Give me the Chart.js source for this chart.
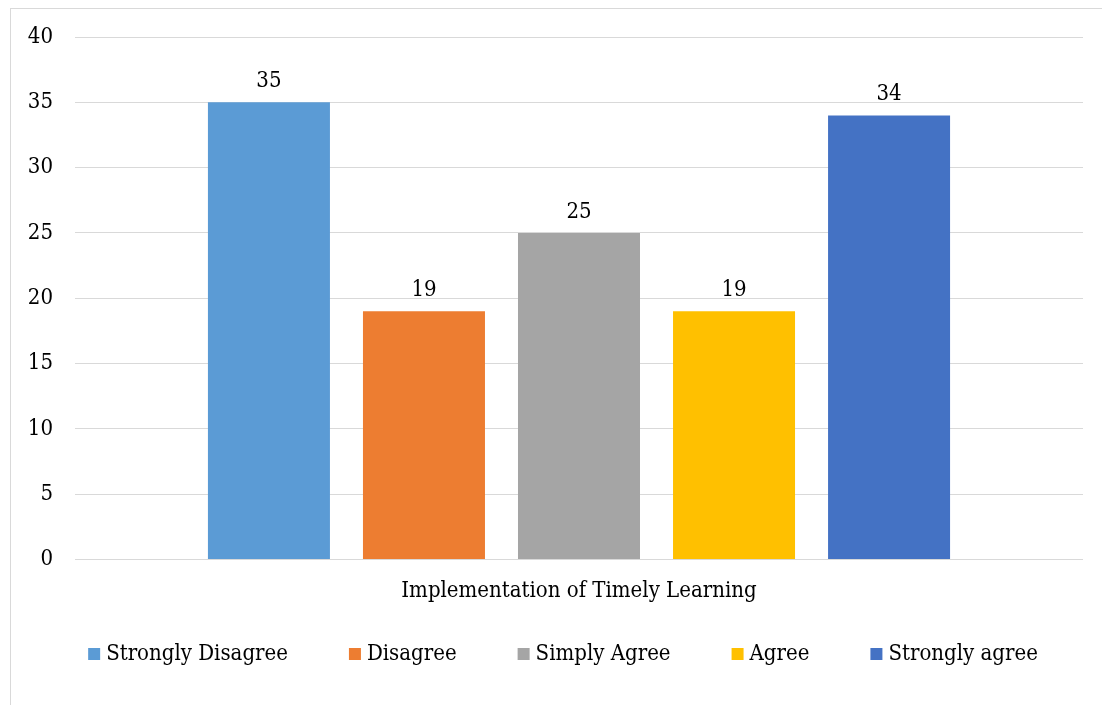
<!DOCTYPE html>
<html>
<head>
<meta charset="utf-8">
<script src="https://cdn.jsdelivr.net/npm/chart.js@4/dist/chart.umd.min.js"></script>
<style>
  html, body { margin: 0; padding: 0; background: #fff; overflow: hidden; }
  #frame { position: absolute; left: 10px; top: 8px; width: 1200px; height: 800px; border: 1px solid #d9d9d9; }
  #wrap { position: absolute; left: 0; top: 0; width: 1102px; height: 705px; }
</style>
</head>
<body>
<div id="frame"></div>
<div id="wrap"><canvas id="responses"></canvas></div>
<script>
var categories = ['Implementation of Timely Learning'];
var seriesNames = ['Strongly Disagree', 'Disagree', 'Simply Agree', 'Agree', 'Strongly agree'];
var seriesValues = [35, 19, 25, 19, 34];
var seriesColors = ['#5B9BD5', '#ED7D31', '#A5A5A5', '#FFC000', '#4472C4'];
var yTicks = [0, 5, 10, 15, 20, 25, 30, 35, 40];

var FONT = "'DejaVu Serif Condensed', 'DejaVu Serif', serif";
var SIZE = 22;

// value printed above each bar
var barValues = {
    id: 'barValues',
    afterDatasetsDraw: function(chart) {
        var ctx = chart.ctx;
        ctx.save();
        ctx.font = SIZE + 'px ' + FONT;
        ctx.fillStyle = '#000';
        ctx.textAlign = 'center';
        ctx.textBaseline = 'bottom';
        chart.data.datasets.forEach(function(ds, i) {
            chart.getDatasetMeta(i).data.forEach(function(bar, j) {
                ctx.fillText(ds.data[j], bar.x, bar.y - 10);
            });
        });
        ctx.restore();
    }
};

// single-row legend under the axis, drawn by hand so the item spacing
// doesn't also push the plot up
var rowLegend = {
    id: 'rowLegend',
    afterDraw: function(chart) {
        var ctx = chart.ctx;
        var box = 12, gapText = 6, gapItem = 61, y = 654;
        ctx.save();
        ctx.font = SIZE + 'px ' + FONT;
        ctx.textBaseline = 'middle';
        ctx.textAlign = 'left';
        var items = chart.data.datasets.map(function(ds) {
            return { text: ds.label, color: ds.backgroundColor, w: ctx.measureText(ds.label).width };
        });
        var total = items.reduce(function(s, it) { return s + box + gapText + it.w; }, 0) + gapItem * (items.length - 1);
        var x = (chart.chartArea.left + chart.chartArea.right) / 2 - 16 - total / 2;
        items.forEach(function(it) {
            ctx.fillStyle = it.color;
            ctx.fillRect(x, y - box / 2, box, box);
            ctx.fillStyle = '#000';
            ctx.fillText(it.text, x + box + gapText, y);
            x += box + gapText + it.w + gapItem;
        });
        ctx.restore();
    }
};

document.addEventListener("DOMContentLoaded", function() {
    var ctx = document.getElementById('responses').getContext('2d');
    new Chart(ctx, {
        type: 'bar',
        data: {
            labels: categories,
            datasets: seriesNames.map(function(name, i) {
                return {
                    label: name,
                    data: [seriesValues[i]],
                    backgroundColor: seriesColors[i],
                    borderWidth: 0,
                    categoryPercentage: 0.769,
                    barPercentage: 0.787
                };
            })
        },
        options: {
            responsive: true,
            maintainAspectRatio: false,
            animation: false,
            layout: { padding: { top: 37, right: 19, bottom: 83, left: 0 } },
            plugins: {
                tooltip: { enabled: false },
                legend: { display: false }
            },
            scales: {
                x: {
                    grid: { display: false, drawTicks: false },
                    border: { display: false },
                    ticks: { font: { family: FONT, size: SIZE }, color: '#000', padding: 18 }
                },
                y: {
                    min: 0,
                    max: 40,
                    afterBuildTicks: function(scale) {
                        scale.ticks = yTicks.map(function(v) { return { value: v }; });
                    },
                    afterFit: function(scale) { scale.width = 75; },
                    grid: { color: '#d9d9d9', lineWidth: 1, drawTicks: false },
                    border: { display: false },
                    ticks: { font: { family: FONT, size: SIZE }, color: '#000', padding: 22 }
                }
            }
        },
        plugins: [barValues, rowLegend]
    });
});
</script>
</body>
</html>
